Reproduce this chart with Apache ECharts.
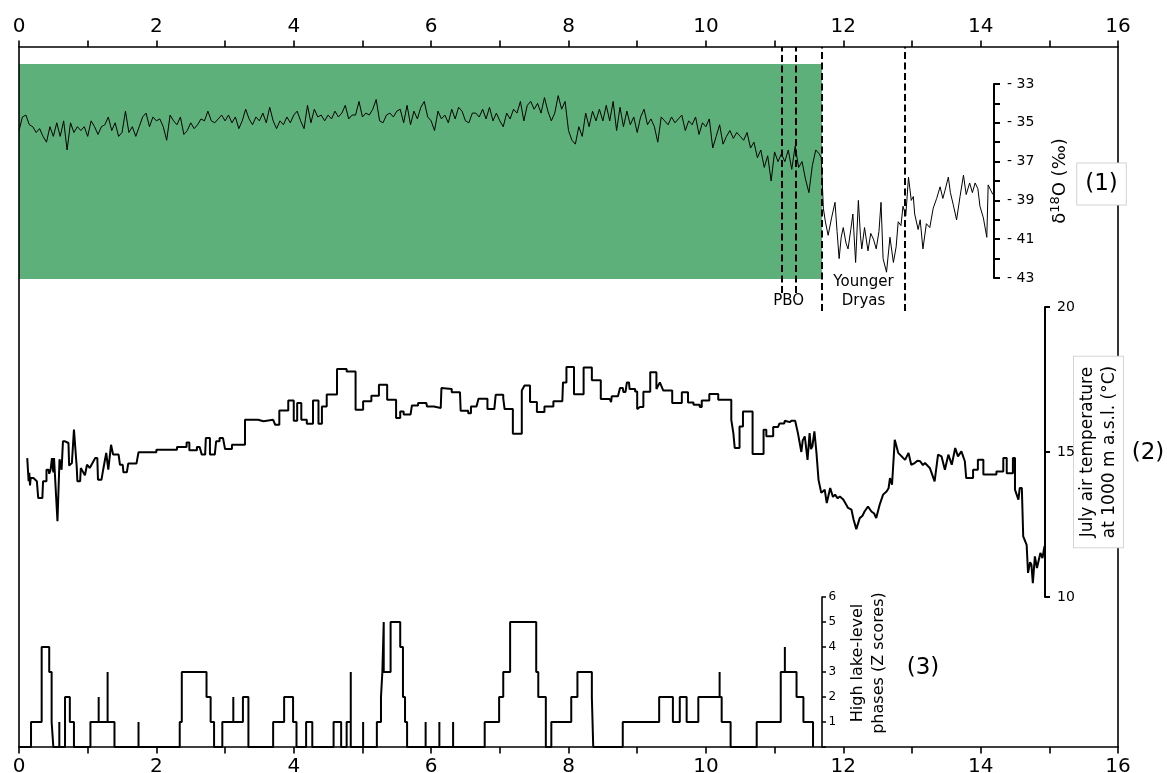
<!DOCTYPE html>
<html><head><meta charset="utf-8">
<script src="https://cdn.jsdelivr.net/npm/echarts@6/dist/echarts.min.js"></script>
<style>html,body{margin:0;padding:0;background:#fff}#c{width:1167px;height:773px}</style>
</head><body><div id="c"></div>
<script>
// ---- data (ages in ka BP) ----
const kaTickLabels = [0, 2, 4, 6, 8, 10, 12, 14, 16];
const d18oTickLabels = [33, 35, 37, 39, 41, 43];
const tempTickLabels = [10, 15, 20];
const lakeTickLabels = [1, 2, 3, 4, 5, 6];
const holocene = [0, 11.69];
const pboLines = [11.1, 11.31];
const ydLines = [11.69, 12.9];
const eventNames = ['PBO', 'Younger\nDryas'];
const panelLabels = ['(1)', '(2)', '(3)'];

const d18o = [
[0.00,35.4],[0.05,34.7],[0.10,34.6],[0.15,35.1],[0.20,35.2],[0.25,35.5],[0.30,35.3],[0.35,35.7],[0.40,36.0],[0.45,35.2],
[0.50,35.7],[0.55,35.0],[0.60,35.7],[0.65,34.9],[0.70,36.4],[0.75,35.0],[0.80,35.5],[0.85,35.2],[0.90,35.4],[0.95,35.2],
[1.00,35.7],[1.05,34.9],[1.10,35.2],[1.15,35.6],[1.20,35.2],[1.25,35.1],[1.30,34.7],[1.35,35.4],[1.40,35.0],[1.45,35.7],
[1.50,35.5],[1.55,34.4],[1.60,35.5],[1.65,35.2],[1.70,35.7],[1.75,35.2],[1.80,34.7],[1.85,34.5],[1.90,35.2],[1.95,34.7],
[2.00,34.9],[2.05,34.8],[2.10,35.2],[2.15,35.9],[2.20,34.6],[2.25,34.9],[2.30,35.1],[2.35,34.7],[2.40,35.6],[2.45,35.4],
[2.50,35.0],[2.55,35.3],[2.60,35.1],[2.65,34.8],[2.70,34.9],[2.75,34.4],[2.80,34.9],[2.85,35.0],[2.90,34.8],[2.95,34.6],
[3.00,34.9],[3.05,34.6],[3.10,35.0],[3.15,34.7],[3.20,35.3],[3.25,34.9],[3.30,34.3],[3.35,34.8],[3.40,35.1],[3.45,34.7],
[3.50,34.9],[3.55,34.5],[3.60,35.0],[3.65,34.2],[3.70,34.9],[3.75,35.3],[3.80,34.9],[3.85,35.1],[3.90,34.7],[3.95,35.0],
[4.00,34.6],[4.05,34.4],[4.10,34.9],[4.15,35.3],[4.20,34.1],[4.25,35.0],[4.30,34.3],[4.35,34.7],[4.40,34.6],[4.45,34.9],
[4.50,34.6],[4.55,34.8],[4.60,34.4],[4.65,34.7],[4.70,34.5],[4.75,34.1],[4.80,34.8],[4.85,34.6],[4.90,34.6],[4.95,33.9],
[5.00,34.7],[5.05,34.5],[5.10,34.6],[5.15,34.3],[5.20,33.8],[5.25,34.9],[5.30,35.0],[5.35,34.6],[5.40,34.5],[5.45,34.7],
[5.50,34.4],[5.55,34.3],[5.60,35.0],[5.65,34.1],[5.70,35.1],[5.75,34.4],[5.80,34.8],[5.85,34.2],[5.90,33.9],[5.95,34.7],
[6.00,34.9],[6.05,35.4],[6.10,34.4],[6.15,34.8],[6.20,34.6],[6.25,35.0],[6.30,34.3],[6.35,34.8],[6.40,34.2],[6.45,34.4],
[6.50,34.9],[6.55,35.0],[6.60,34.5],[6.65,34.5],[6.70,34.7],[6.75,34.3],[6.80,34.8],[6.85,34.2],[6.90,34.9],[6.95,34.5],
[7.00,34.9],[7.05,35.2],[7.10,34.5],[7.15,34.8],[7.20,34.3],[7.25,34.5],[7.30,33.9],[7.35,34.9],[7.40,34.1],[7.45,33.9],
[7.50,34.3],[7.55,34.0],[7.60,34.5],[7.65,33.7],[7.70,34.4],[7.75,34.9],[7.80,34.5],[7.85,33.6],[7.90,34.3],[7.95,33.9],
[8.00,35.4],[8.05,35.9],[8.10,36.1],[8.15,35.2],[8.20,35.7],[8.25,34.5],[8.30,35.2],[8.35,34.4],[8.40,34.9],[8.45,34.3],
[8.50,34.9],[8.55,34.1],[8.60,34.9],[8.65,33.9],[8.70,35.4],[8.75,34.2],[8.80,35.2],[8.85,34.4],[8.90,35.1],[8.95,34.7],
[9.00,35.5],[9.05,34.7],[9.10,34.3],[9.15,35.1],[9.20,34.8],[9.25,35.2],[9.30,36.0],[9.35,34.7],[9.40,34.9],[9.45,35.1],
[9.50,34.7],[9.55,35.0],[9.60,34.8],[9.65,34.6],[9.70,35.4],[9.75,34.9],[9.80,35.1],[9.85,34.7],[9.90,35.6],[9.95,35.0],
[10.00,35.2],[10.05,34.8],[10.10,36.3],[10.15,35.7],[10.20,35.1],[10.25,36.1],[10.30,35.7],[10.35,35.4],[10.40,35.8],[10.45,35.5],
[10.50,35.7],[10.55,35.9],[10.60,35.5],[10.65,36.3],[10.70,36.0],[10.75,36.8],[10.80,36.4],[10.85,37.3],[10.90,36.7],[10.95,38.0],
[11.00,36.5],[11.05,37.0],[11.10,36.6],[11.15,37.0],[11.20,36.4],[11.25,37.4],[11.30,36.2],[11.35,37.3],[11.40,37.0],[11.45,37.9],
[11.50,38.6],[11.55,37.2],[11.60,36.4],[11.65,36.6],[11.68,36.8],[11.71,39.4],[11.74,40.1],[11.78,40.8],[11.83,39.9],[11.88,39.1],
[11.91,40.6],[11.94,42.0],[11.97,40.9],[12.00,40.4],[12.04,41.2],[12.07,41.5],[12.11,40.5],[12.14,39.7],[12.18,42.2],[12.22,39.0],
[12.25,40.8],[12.27,41.5],[12.31,40.4],[12.36,41.6],[12.40,40.7],[12.44,41.0],[12.48,41.5],[12.52,40.6],[12.55,39.1],[12.58,42.0],
[12.63,42.7],[12.68,40.9],[12.73,42.2],[12.77,41.4],[12.80,40.1],[12.84,40.3],[12.87,39.3],[12.91,39.8],[12.95,37.8],[12.99,39.0],
[13.02,38.8],[13.04,39.7],[13.09,40.5],[13.12,40.0],[13.16,41.5],[13.21,40.2],[13.26,40.4],[13.31,39.4],[13.36,38.9],[13.41,38.3],
[13.45,38.9],[13.48,38.5],[13.53,37.8],[13.56,38.6],[13.60,39.2],[13.65,40.0],[13.70,38.8],[13.75,37.7],[13.79,38.7],[13.84,38.1],
[13.88,38.6],[13.92,38.1],[13.96,38.4],[13.99,39.3],[14.04,39.9],[14.09,40.9],[14.11,38.2],[14.15,38.5],[14.18,38.7]
];

const temperature = [
[0.12,14.79],[0.14,13.99],[0.15,14.28],[0.16,13.85],[0.17,14.10],[0.18,14.05],[0.21,14.10],[0.26,13.99],[0.28,13.99],[0.28,13.41],
[0.34,13.41],[0.35,13.99],[0.40,13.99],[0.40,14.39],[0.43,14.39],[0.44,14.25],[0.46,14.39],[0.48,14.79],[0.50,14.30],[0.51,14.79],
[0.56,12.61],[0.59,14.75],[0.62,14.39],[0.64,15.37],[0.67,15.37],[0.72,15.31],[0.73,14.53],[0.77,14.62],[0.80,15.77],[0.84,14.50],
[0.85,13.99],[0.89,13.99],[0.90,14.45],[0.94,14.28],[0.96,14.20],[0.99,14.56],[1.03,14.45],[1.11,14.79],[1.14,14.79],[1.15,14.04],
[1.20,14.04],[1.23,14.45],[1.27,14.97],[1.30,14.39],[1.34,15.25],[1.37,14.91],[1.45,14.91],[1.47,14.56],[1.51,14.56],[1.52,14.30],
[1.57,14.30],[1.59,14.60],[1.71,14.60],[1.74,14.99],[2.00,14.99],[2.00,15.08],[2.30,15.08],[2.30,15.17],[2.44,15.17],[2.44,15.33],
[2.48,15.33],[2.48,15.06],[2.59,15.06],[2.59,15.17],[2.63,15.17],[2.66,14.91],[2.71,14.91],[2.72,15.48],[2.78,15.48],[2.78,14.91],
[2.85,14.91],[2.87,15.37],[2.92,15.37],[2.92,15.48],[2.97,15.48],[3.00,15.10],[3.10,15.10],[3.10,15.25],[3.29,15.25],[3.29,16.11],
[3.48,16.11],[3.48,16.06],[3.56,16.06],[3.56,16.11],[3.70,16.11],[3.73,15.94],[3.79,15.94],[3.79,16.43],[3.92,16.43],[3.92,16.78],
[4.00,16.78],[4.00,16.08],[4.05,16.08],[4.05,16.69],[4.11,16.69],[4.11,16.11],[4.19,16.11],[4.19,15.97],[4.28,15.97],[4.28,16.78],
[4.36,16.78],[4.36,15.97],[4.41,15.97],[4.41,16.57],[4.48,16.57],[4.48,16.98],[4.63,16.98],[4.63,17.86],[4.77,17.86],[4.77,17.78],
[4.90,17.78],[4.90,16.46],[5.01,16.46],[5.01,16.75],[5.13,16.75],[5.13,16.94],[5.24,16.94],[5.24,17.32],[5.36,17.32],[5.36,16.80],
[5.49,16.80],[5.49,16.17],[5.55,16.17],[5.55,16.40],[5.60,16.40],[5.60,16.29],[5.70,16.29],[5.72,16.60],[5.81,16.60],[5.81,16.69],
[5.93,16.69],[5.94,16.57],[6.04,16.57],[6.06,16.52],[6.14,16.52],[6.15,17.21],[6.30,17.17],[6.30,17.06],[6.42,17.06],[6.43,16.42],
[6.54,16.42],[6.54,16.34],[6.58,16.34],[6.58,16.57],[6.66,16.57],[6.69,16.84],[6.82,16.84],[6.82,16.48],[6.92,16.48],[6.94,16.97],
[7.05,16.97],[7.05,16.85],[7.07,16.85],[7.07,16.48],[7.19,16.48],[7.19,15.63],[7.32,15.63],[7.32,17.12],[7.36,17.29],[7.44,17.29],
[7.44,16.72],[7.54,16.72],[7.54,16.38],[7.65,16.38],[7.65,16.57],[7.78,16.57],[7.78,16.75],[7.91,16.75],[7.92,17.40],[7.97,17.40],
[7.97,17.93],[8.08,17.93],[8.08,16.99],[8.22,16.99],[8.22,17.91],[8.34,17.91],[8.34,17.47],[8.47,17.47],[8.47,16.83],[8.60,16.83],
[8.62,16.72],[8.63,16.92],[8.72,16.92],[8.75,17.21],[8.79,17.21],[8.80,17.07],[8.83,17.07],[8.85,17.40],[8.88,17.40],[8.89,17.17],
[8.97,17.17],[8.97,17.09],[9.00,17.09],[9.00,16.48],[9.04,16.55],[9.09,16.55],[9.09,17.08],[9.19,17.08],[9.19,17.75],[9.28,17.75],
[9.28,17.17],[9.33,17.40],[9.38,17.12],[9.51,17.12],[9.51,16.69],[9.65,16.69],[9.65,17.06],[9.74,17.06],[9.74,16.71],[9.82,16.71],
[9.82,16.63],[9.91,16.63],[9.91,16.55],[9.94,16.55],[9.94,16.78],[10.05,16.78],[10.05,17.00],[10.18,17.00],[10.18,16.80],[10.37,16.80],
[10.37,16.11],[10.40,15.65],[10.42,15.14],[10.49,15.14],[10.49,15.88],[10.54,15.88],[10.54,16.40],[10.68,16.40],[10.68,14.93],[10.84,14.93],
[10.84,15.77],[10.88,15.77],[10.88,15.54],[10.98,15.54],[10.98,15.86],[11.05,15.86],[11.07,15.98],[11.14,15.98],[11.15,16.08],[11.22,16.03],
[11.25,16.08],[11.30,16.08],[11.34,15.65],[11.39,15.00],[11.41,15.40],[11.44,15.54],[11.48,14.73],[11.51,15.65],[11.53,15.10],[11.55,15.19],
[11.58,15.71],[11.61,14.97],[11.64,14.04],[11.68,13.59],[11.73,13.70],[11.76,13.24],[11.81,13.76],[11.85,13.45],[11.88,13.53],[11.92,13.40],
[11.95,13.47],[12.00,13.36],[12.04,13.20],[12.07,13.07],[12.12,13.01],[12.15,12.67],[12.19,12.34],[12.24,12.72],[12.28,12.80],[12.31,12.95],
[12.36,13.12],[12.41,12.95],[12.45,12.88],[12.48,12.72],[12.53,13.18],[12.58,13.53],[12.63,13.64],[12.66,13.75],[12.68,14.10],[12.71,13.87],
[12.75,15.42],[12.80,14.97],[12.85,14.85],[12.90,14.73],[12.95,14.97],[12.99,14.56],[13.04,14.62],[13.08,14.70],[13.12,14.68],[13.16,14.55],
[13.19,14.62],[13.26,14.45],[13.33,13.99],[13.38,14.91],[13.43,14.85],[13.48,14.39],[13.53,14.91],[13.58,14.56],[13.63,15.14],[13.67,14.85],
[13.72,15.02],[13.77,14.68],[13.79,14.68],[13.79,14.10],[13.89,14.10],[13.89,14.39],[13.96,14.39],[13.96,14.73],[14.04,14.73],[14.04,14.22],
[14.23,14.22],[14.23,14.33],[14.33,14.33],[14.33,14.79],[14.38,14.79],[14.38,14.27],[14.47,14.27],[14.47,14.79],[14.50,14.79],[14.50,13.70],
[14.55,13.36],[14.57,13.76],[14.60,13.76],[14.62,12.09],[14.67,11.80],[14.69,10.83],[14.72,11.20],[14.74,11.11],[14.76,10.48],[14.79,11.40],
[14.82,11.00],[14.84,11.06],[14.87,11.52],[14.90,11.34],[14.93,11.75]
];

// lake-level Z scores: [age where level starts, level]
const lakeLevel = [
[0.00,0],[0.175,1],[0.33,4],[0.44,3],[0.475,1],[0.50,0],[0.587,1],[0.587,0],[0.67,2],[0.74,1],[0.80,0],
[1.04,1],[1.16,2],[1.16,1],[1.29,3],[1.29,1],[1.39,0],[1.74,1],[1.74,0],[2.34,1],[2.37,3],[2.73,2],[2.79,1],[2.84,0],
[2.96,1],[3.12,2],[3.12,1],[3.26,2],[3.34,0],[3.70,1],[3.86,2],[3.99,1],[4.04,0],[4.18,1],[4.27,0],[4.58,1],[4.69,0],
[4.77,1],[4.83,3],[4.83,0],[5.01,1],[5.01,0],[5.21,1],[5.27,2],[5.29,3],[5.31,5],[5.31,3],[5.41,5],[5.55,4],[5.59,2],
[5.62,1],[5.65,0],[5.92,1],[5.92,0],[6.12,1],[6.12,0],[6.32,1],[6.32,0],[6.78,1],[6.99,2],[7.05,3],[7.15,5],[7.53,3],
[7.56,2],[7.67,0],[7.75,1],[8.04,2],[8.13,3],[8.34,2],[8.36,0],[8.79,1],[9.32,2],[9.52,1],[9.62,2],[9.72,1],[9.89,2],
[10.20,3],[10.20,2],[10.23,1],[10.36,0],[10.74,1],[11.09,3],[11.15,4],[11.15,3],[11.32,2],[11.42,1],[11.56,0]
];

// ---- layout ----
const FONT = 'DejaVu Sans';
const BLACK = '#000';
const W = 1167;
const PLOT_LEFT = 19, PLOT_RIGHT = 1118;       // frame edges (px)
const KA_MAX = 16;
// each panel's own axis sits at its grid's right edge; x scale kept identical
const AX_D18O = 994, AX_TEMP = 1045, AX_LAKE = 822;
const kaAt = px => KA_MAX * (px - PLOT_LEFT) / (PLOT_RIGHT - PLOT_LEFT);

const frameLine = {show: true, onZero: false, lineStyle: {color: BLACK, width: 1.6}};
const hiddenX = (gi, max) => ({type: 'value', gridIndex: gi, min: 0, max: max === undefined ? KA_MAX : max, show: false, axisLine: {onZero: false}});
const hiddenY = gi => ({type: 'value', gridIndex: gi, min: 0, max: 1, show: false, axisLine: {onZero: false}});
const grid = (o, rightPx) => Object.assign({left: PLOT_LEFT, right: W - (rightPx || PLOT_RIGHT), outerBoundsMode: 'none', containLabel: false}, o);

const xFrame = (pos, margin) => ({
  type: 'value', gridIndex: 0, position: pos, min: 0, max: KA_MAX, interval: 1, z: 10,
  axisLine: frameLine,
  axisTick: {show: true, length: 6.5, lineStyle: {color: BLACK, width: 1.6}},
  axisLabel: {color: BLACK, fontFamily: FONT, fontSize: 20, margin: margin,
    formatter: v => kaTickLabels.includes(v) ? String(v) : ''},
  splitLine: {show: false}
});

const option = {
  animation: false,
  backgroundColor: '#fff',
  grid: [
    grid({top: 47, bottom: 26}),                    // 0 frame
    grid({top: 64, height: 215}),                   // 1 Holocene band
    grid({top: 47, height: 264}),                   // 2 YD lines
    grid({top: 84, height: 194}, AX_D18O),          // 3 d18O
    grid({top: 307, height: 290}, AX_TEMP),         // 4 temperature
    grid({top: 597, height: 150}, AX_LAKE),         // 5 lake levels
    grid({top: 47, height: 246})                    // 6 PBO lines
  ],
  xAxis: [xFrame('bottom', 10), xFrame('top', 10), hiddenX(1), hiddenX(2),
          hiddenX(3, kaAt(AX_D18O)), hiddenX(4, kaAt(AX_TEMP)), hiddenX(5, kaAt(AX_LAKE)), hiddenX(6)],
  yAxis: [
    {type: 'value', gridIndex: 0, position: 'left', min: 0, max: 1, z: 10, axisLine: frameLine,
      axisTick: {show: false}, axisLabel: {show: false}, splitLine: {show: false}},
    {type: 'value', gridIndex: 0, position: 'right', min: 0, max: 1, z: 10, axisLine: frameLine,
      axisTick: {show: false}, axisLabel: {show: false}, splitLine: {show: false}},
    hiddenY(1), hiddenY(2),
    {type: 'value', gridIndex: 3, position: 'right', inverse: true, min: 33, max: 43, interval: 1, z: 11,
      axisLine: {show: true, onZero: false, lineStyle: {color: BLACK, width: 2}},
      axisTick: {show: true, length: 6, lineStyle: {color: BLACK, width: 2}},
      axisLabel: {color: BLACK, fontFamily: FONT, fontSize: 14, margin: 13,
        formatter: v => d18oTickLabels.includes(v) ? '- ' + v : ''},
      splitLine: {show: false},
      name: '{a|δ}{s|18}{a|O (‰)}', nameLocation: 'middle', nameRotate: 90, nameGap: 55, nameMoveOverlap: false,
      nameTextStyle: {color: BLACK, fontFamily: FONT,
        rich: {a: {fontSize: 18, fontFamily: FONT, color: BLACK, lineHeight: 22},
               s: {fontSize: 13, fontFamily: FONT, color: BLACK, lineHeight: 10, verticalAlign: 'top'}}}},
    {type: 'value', gridIndex: 4, position: 'right', min: 10, max: 20, interval: 5, z: 20,
      axisLine: {show: true, onZero: false, lineStyle: {color: BLACK, width: 2}},
      axisTick: {show: true, length: 5, lineStyle: {color: BLACK, width: 2}},
      axisLabel: {color: BLACK, fontFamily: FONT, fontSize: 14, margin: 12,
        formatter: v => tempTickLabels.includes(v) ? String(v) : ''},
      splitLine: {show: false},
      name: 'July air temperature\nat 1000 m a.s.l. (°C)', nameLocation: 'middle', nameRotate: 90, nameGap: 29, nameMoveOverlap: false,
      nameTextStyle: {color: BLACK, fontFamily: FONT, fontSize: 17, lineHeight: 22,
        backgroundColor: '#fff', borderColor: '#d4d4d4', borderWidth: 1, padding: [3, 9, 2, 9]}},
    {type: 'value', gridIndex: 5, position: 'right', min: 0, max: 6, interval: 1, z: 11,
      axisLine: {show: true, onZero: false, lineStyle: {color: BLACK, width: 1.6}},
      axisTick: {show: true, length: 4, lineStyle: {color: BLACK, width: 1.5}},
      axisLabel: {color: BLACK, fontFamily: FONT, fontSize: 12, margin: 6.5,
        formatter: v => lakeTickLabels.includes(v) ? String(v) : ''},
      splitLine: {show: false},
      name: 'High lake-level\nphases (Z scores)', nameLocation: 'middle', nameRotate: 90, nameGap: 25, nameMoveOverlap: false,
      nameTextStyle: {color: BLACK, fontFamily: FONT, fontSize: 16, lineHeight: 21, padding: [0, 0, 0, 18]}},
    hiddenY(6)
  ],
  series: [
    {type: 'line', xAxisIndex: 2, yAxisIndex: 2, data: [], z: 1, silent: true,
      markArea: {silent: true, itemStyle: {color: '#5eb07a'},
        data: [[{xAxis: holocene[0]}, {xAxis: holocene[1]}]]}},
    {type: 'line', xAxisIndex: 3, yAxisIndex: 3, data: [], z: 5, silent: true,
      markLine: {silent: true, symbol: ['none', 'none'], label: {show: false},
        lineStyle: {color: BLACK, width: 2, type: [7, 3.5]},
        data: ydLines.map(x => ({xAxis: x}))},
      markArea: {silent: true, itemStyle: {color: 'rgba(0,0,0,0)'},
        label: {show: true, position: 'insideBottom', distance: 0, color: BLACK, fontFamily: FONT, fontSize: 15, lineHeight: 19},
        data: [[{name: eventNames[0], xAxis: pboLines[0]}, {xAxis: pboLines[1]}],
               [{name: eventNames[1], xAxis: ydLines[0]}, {xAxis: ydLines[1]}]]}},
    {type: 'line', xAxisIndex: 7, yAxisIndex: 7, data: [], z: 5, silent: true,
      markLine: {silent: true, symbol: ['none', 'none'], label: {show: false},
        lineStyle: {color: BLACK, width: 2, type: [7, 3.5]},
        data: pboLines.map(x => ({xAxis: x}))}},
    {type: 'line', xAxisIndex: 4, yAxisIndex: 4, data: d18o, z: 3, showSymbol: false, symbol: 'none', clip: false,
      lineStyle: {color: BLACK, width: 1}},
    {type: 'line', xAxisIndex: 5, yAxisIndex: 5, data: temperature, z: 3, showSymbol: false, symbol: 'none', clip: false,
      lineStyle: {color: BLACK, width: 2}},
    {type: 'line', xAxisIndex: 6, yAxisIndex: 6, data: lakeLevel, z: 3, showSymbol: false, symbol: 'none', step: 'end', clip: false,
      lineStyle: {color: BLACK, width: 2}}
  ],
  graphic: [
    {type: 'text', x: 1101.5, y: 184, z: 100,
      style: {text: panelLabels[0], fontSize: 23, fontFamily: FONT, fill: BLACK, textAlign: 'center', textVerticalAlign: 'middle',
        backgroundColor: '#fff', borderColor: '#d4d4d4', borderWidth: 1, padding: [9, 8, 9, 8]}},
    {type: 'text', x: 1148, y: 453, z: 100,
      style: {text: panelLabels[1], fontSize: 23, fontFamily: FONT, fill: BLACK, textAlign: 'center', textVerticalAlign: 'middle'}},
    {type: 'text', x: 923, y: 668, z: 100,
      style: {text: panelLabels[2], fontSize: 23, fontFamily: FONT, fill: BLACK, textAlign: 'center', textVerticalAlign: 'middle'}}
  ]
};

const chart = echarts.init(document.getElementById('c'), null, {renderer: 'canvas'});
chart.setOption(option);
</script>
</body></html>
